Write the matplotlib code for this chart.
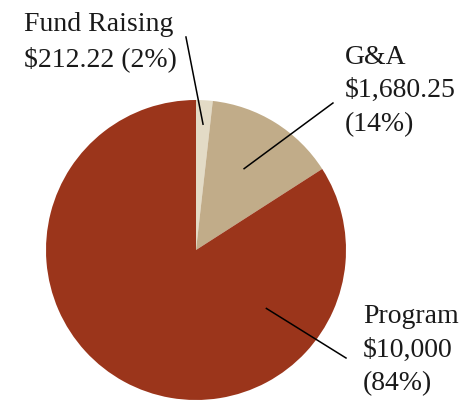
import numpy as np
import matplotlib
matplotlib.use("Agg")
from matplotlib import pyplot as plt

labels = ["Fund Raising", "G&A", "Program"]
amounts = [212.22, 1680.25, 10000]
amount_text = ["$212.22", "$1,680.25", "$10,000"]
colors = ["#e3dbc6", "#c1ac89", "#9b351b"]

plt.rcParams['font.family'] = ['Liberation Serif', 'DejaVu Serif']

fig = plt.figure(figsize=(4.61, 4.07), dpi=100)
# pie: centre at (196, 250) px, radius 150 px
ax = fig.add_axes([46 / 461, 7 / 407, 300 / 461, 300 / 407])
ax.axis("off")

wedges, _ = ax.pie(amounts, colors=colors, startangle=90, counterclock=False,
                   radius=1, wedgeprops=dict(linewidth=0))
ax.set_xlim(-1, 1)
ax.set_ylim(-1, 1)
ax.set_aspect("equal")

total = sum(amounts)
pcts = [round(a / total * 100) for a in amounts]

# label texts (layout), leader line start (angle, radius) and end point
texts = [
    f"{labels[0]}\n{amount_text[0]} ({pcts[0]}%)",
    f"{labels[1]}\n{amount_text[1]}\n({pcts[1]}%)",
    f"{labels[2]}\n{amount_text[2]}\n({pcts[2]}%)",
]
text_pos = [(-1.147, 1.585), (0.995, 1.37), (1.113, -0.36)]
start_ang = [86.8, 59.4, -39.7]
start_r = [0.84, 0.63, 0.61]
line_end = [(-0.067, 1.42), (0.913, 0.98), (1.0, -0.72)]

for t, tp, a, r, le in zip(texts, text_pos, start_ang, start_r, line_end):
    ang = np.deg2rad(a)
    x0, y0 = r * np.cos(ang), r * np.sin(ang)
    ax.plot([x0, le[0]], [y0, le[1]], color="black", lw=1.1, clip_on=False)
    ax.text(tp[0], tp[1], t, ha="left", va="top", fontsize=20,
            linespacing=1.45, color="#1a1a1a")

fig.savefig("out.png", dpi=100)
